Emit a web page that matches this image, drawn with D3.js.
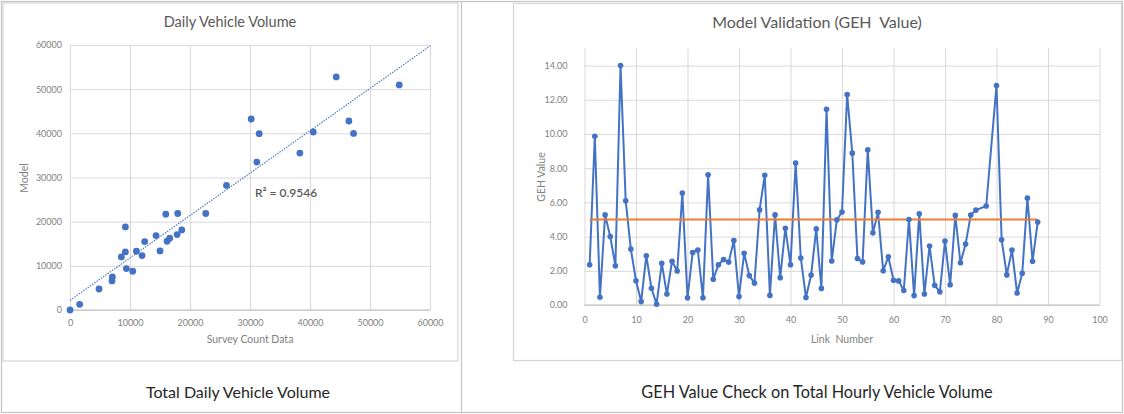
<!DOCTYPE html>
<html>
<head>
<meta charset="utf-8">
<script src="https://cdn.jsdelivr.net/npm/d3@7"></script>
<style>
  body { margin: 0; background: #fff; }
  svg { display: block; font-family: Lato, "Open Sans", sans-serif; }
  text { white-space: pre; }
</style>
</head>
<body>
<svg id="page" width="1124" height="414"></svg>
<script>
// ---- Daily vehicle volume: survey counts vs. model ----
const surveyCounts = [0, 1610, 4840, 7060, 7000, 8560, 9230, 9230, 9400, 10450, 11070, 12010,
  12450, 14340, 15010, 15960, 16180, 16620, 17850, 17960, 18630, 22630, 26080, 30200,
  31530, 31140, 38310, 40540, 44370, 46480, 47260, 54870];
const modelVolumes = [0, 1290, 4760, 7480, 6580, 12020, 18820, 13150, 9370, 8770, 13300, 12320,
  15490, 16850, 13380, 21700, 15570, 16250, 17080, 21850, 18140, 21850, 28200, 43240,
  39920, 33490, 35530, 40300, 52770, 42790, 39990, 50960];
const volumeTicks = [0, 10000, 20000, 30000, 40000, 50000, 60000];
const rSquaredLabel = "R\u00B2 = 0.9546";

// ---- GEH value per link ----
const linkNumbers = [1, 2, 3, 4, 5, 6, 7, 8, 9, 10, 11, 12, 13, 14, 15, 16, 17, 18, 19, 20,
  21, 22, 23, 24, 25, 26, 27, 28, 29, 30, 31, 32, 33, 34, 35, 36, 37, 38, 39, 40,
  41, 42, 43, 44, 45, 46, 47, 48, 49, 50, 51, 52, 53, 54, 55, 56, 57, 58, 59, 60,
  61, 62, 63, 64, 65, 66, 67, 68, 69, 70, 71, 72, 73, 74, 75, 76, 78, 80,
  81, 82, 83, 84, 85, 86, 87, 88];
const gehValues = [2.35, 9.87, 0.45, 5.27, 4.01, 2.29, 14.0, 6.09, 3.27, 1.42, 0.2, 2.88, 0.98, 0.05, 2.44, 0.64, 2.56, 1.99, 6.55, 0.42,
  3.07, 3.21, 0.42, 7.62, 1.51, 2.35, 2.66, 2.51, 3.77, 0.49, 3.03, 1.72, 1.28, 5.56, 7.59, 0.56, 5.27, 1.6, 4.49, 2.35,
  8.3, 2.75, 0.44, 1.75, 4.45, 0.97, 11.45, 2.57, 4.98, 5.44, 12.31, 8.88, 2.72, 2.52, 9.07, 4.22, 5.42, 2.0, 2.82, 1.45,
  1.41, 0.85, 5.0, 0.55, 5.33, 0.64, 3.45, 1.15, 0.77, 3.74, 1.18, 5.24, 2.47, 3.56, 5.26, 5.55, 5.79, 12.84,
  3.81, 1.76, 3.22, 0.7, 1.86, 6.25, 2.56, 4.85];
const gehThreshold = 5;
const gehTicks = [0, 2, 4, 6, 8, 10, 12, 14];
const linkTicks = [0, 10, 20, 30, 40, 50, 60, 70, 80, 90, 100];

const BLUE = "#4472c4", ORANGE = "#ed7d31", GRID = "#d9d9d9", AXIS_TEXT = "#7f7f7f", TITLE_TEXT = "#595959";

const svg = d3.select("#page");

// Page frame: outer table and cell divider
const frame = svg.append("g").attr("fill", "none").attr("stroke", "#c4c4c4").attr("stroke-width", 1.2);
frame.append("rect").attr("x", 1.5).attr("y", 1.5).attr("width", 1121).attr("height", 411);
frame.append("line").attr("x1", 461.5).attr("x2", 461.5).attr("y1", 1.5).attr("y2", 412.5);

// Chart-area boxes
const boxes = svg.append("g").attr("fill", "none").attr("stroke", "#d4d4d4").attr("stroke-width", 1.2);
boxes.append("rect").attr("x", 3).attr("y", 3).attr("width", 455).attr("height", 358);
boxes.append("rect").attr("x", 513.5).attr("y", 3.5).attr("width", 608).attr("height", 357);

// Captions under each chart
svg.append("text").attr("x", 238).attr("y", 398).attr("text-anchor", "middle")
  .attr("font-size", 16).attr("fill", "#262626").text("Total Daily Vehicle Volume");
svg.append("text").attr("x", 817).attr("y", 398).attr("text-anchor", "middle")
  .attr("font-size", 16.3).attr("fill", "#262626").text("GEH Value Check on Total Hourly Vehicle Volume");

function styleAxis(g) {
  g.select(".domain").remove();
  g.selectAll(".tick line").attr("stroke", GRID).attr("stroke-width", 1);
  g.selectAll(".tick text").attr("fill", AXIS_TEXT).attr("font-size", 9)
    .attr("font-family", "Lato, 'Open Sans', sans-serif");
}

// ================= Scatter: Daily Vehicle Volume =================
{
  const x = d3.scaleLinear([0, 60000], [70, 430]);
  const y = d3.scaleLinear([0, 60000], [310, 45]);
  const g = svg.append("g");

  g.append("text").attr("x", 230).attr("y", 27).attr("text-anchor", "middle")
    .attr("font-size", 14.5).attr("fill", TITLE_TEXT).text("Daily Vehicle Volume");

  g.append("g").attr("transform", `translate(0,${y(0)})`)
    .call(d3.axisBottom(x).tickValues(volumeTicks).tickFormat(d3.format("d"))
      .tickSize(-(y(0) - y(60000))).tickPadding(10))
    .call(styleAxis);
  g.append("g").attr("transform", `translate(${x(0)},0)`)
    .call(d3.axisLeft(y).tickValues(volumeTicks).tickFormat(d3.format("d"))
      .tickSize(-(x(60000) - x(0))).tickPadding(8))
    .call(styleAxis);
  g.append("line").attr("x1", x(0)).attr("x2", x(60000)).attr("y1", y(0)).attr("y2", y(0))
    .attr("stroke", "#bfbfbf");

  g.append("text").attr("x", 250).attr("y", 343).attr("text-anchor", "middle")
    .attr("font-size", 10.5).attr("fill", AXIS_TEXT).text("Survey Count Data");
  g.append("text").attr("transform", `translate(28,178) rotate(-90)`).attr("text-anchor", "middle")
    .attr("font-size", 10.5).attr("fill", AXIS_TEXT).text("Model");

  // Least-squares trend line
  const n = surveyCounts.length;
  const mx = d3.mean(surveyCounts), my = d3.mean(modelVolumes);
  let sxy = 0, sxx = 0;
  for (let i = 0; i < n; i++) {
    sxy += (surveyCounts[i] - mx) * (modelVolumes[i] - my);
    sxx += (surveyCounts[i] - mx) ** 2;
  }
  const slope = sxy / sxx, intercept = my - slope * mx;
  const xEnd = Math.min(60000, (60000 - intercept) / slope);
  g.append("line")
    .attr("x1", x(0)).attr("y1", y(intercept))
    .attr("x2", x(xEnd)).attr("y2", y(intercept + slope * xEnd))
    .attr("stroke", BLUE).attr("stroke-width", 1.1).attr("stroke-dasharray", "1.5,1.2");

  g.append("g").selectAll("circle").data(surveyCounts).join("circle")
    .attr("cx", d => x(d)).attr("cy", (d, i) => y(modelVolumes[i])).attr("r", 3.4)
    .attr("fill", BLUE);

  g.append("text").attr("x", 255).attr("y", 197).attr("font-size", 12).attr("font-weight", 600)
    .attr("fill", TITLE_TEXT).text(rSquaredLabel);
}

// ================= Line: Model Validation (GEH Value) =================
{
  const x = d3.scaleLinear([0, 100], [584.5, 1099.5]);
  const y = d3.scaleLinear([0, 15], [305, 48.5]);
  const g = svg.append("g");

  g.append("text").attr("x", 817).attr("y", 28).attr("text-anchor", "middle")
    .attr("font-size", 16).attr("fill", TITLE_TEXT).text("Model Validation (GEH  Value)");

  g.append("g").attr("transform", `translate(0,${y(0)})`)
    .call(d3.axisBottom(x).tickValues(linkTicks).tickFormat(d3.format("d"))
      .tickSize(-(y(0) - y(15))).tickPadding(12))
    .call(styleAxis);
  g.append("g").attr("transform", `translate(${x(0)},0)`)
    .call(d3.axisLeft(y).tickValues(gehTicks).tickFormat(d3.format(".2f"))
      .tickSize(-(x(100) - x(0))).tickPadding(17))
    .call(styleAxis);
  g.append("line").attr("x1", x(0)).attr("x2", x(100)).attr("y1", y(0)).attr("y2", y(0))
    .attr("stroke", "#bfbfbf");

  g.append("text").attr("x", 842).attr("y", 343).attr("text-anchor", "middle")
    .attr("font-size", 10.5).attr("fill", AXIS_TEXT).text("Link  Number");
  g.append("text").attr("transform", `translate(545,177) rotate(-90)`).attr("text-anchor", "middle")
    .attr("font-size", 10.5).attr("fill", AXIS_TEXT).text("GEH Value");

  const pts = linkNumbers.map((l, i) => [l, gehValues[i]]);
  g.append("path").datum(pts)
    .attr("fill", "none").attr("stroke", BLUE).attr("stroke-width", 2).attr("stroke-linejoin", "round")
    .attr("d", d3.line().x(d => x(d[0])).y(d => y(d[1])));

  g.append("line")
    .attr("x1", x(d3.min(linkNumbers))).attr("x2", x(d3.max(linkNumbers)))
    .attr("y1", y(gehThreshold)).attr("y2", y(gehThreshold))
    .attr("stroke", ORANGE).attr("stroke-width", 2);

  g.append("g").selectAll("circle").data(pts).join("circle")
    .attr("cx", d => x(d[0])).attr("cy", d => y(d[1])).attr("r", 2.8)
    .attr("fill", BLUE);
}
</script>
</body>
</html>
